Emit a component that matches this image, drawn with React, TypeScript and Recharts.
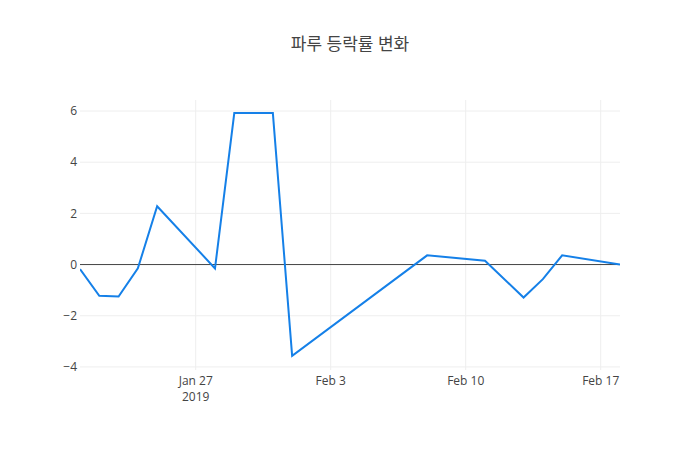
import { LineChart, Line, XAxis, YAxis, ReferenceLine } from "recharts";

const dates = [
  "2019-01-21", "2019-01-22", "2019-01-23", "2019-01-24", "2019-01-25",
  "2019-01-28", "2019-01-29", "2019-01-30", "2019-01-31", "2019-02-01",
  "2019-02-08", "2019-02-11", "2019-02-13", "2019-02-14", "2019-02-15",
  "2019-02-18",
];
const changes = [
  -0.18, -1.22, -1.25, -0.15, 2.28,
  -0.15, 5.92, 5.92, 5.92, -3.57,
  0.36, 0.15, -1.29, -0.57, 0.36,
  0.0,
];
const xTicks = ["2019-01-27", "2019-02-03", "2019-02-10", "2019-02-17"];
const xTickLabels = ["Jan 27", "Feb 3", "Feb 10", "Feb 17"];
const yTicks = [-4, -2, 0, 2, 4, 6];

const ts = (s: string) => Date.parse(s + "T00:00:00Z");

const data = dates.map((d, i) => ({ t: ts(d), v: changes[i] }));
const tickTs = xTicks.map(ts);

const FONT = '"Open Sans", "Noto Sans CJK KR", sans-serif';

function XTick({ x, y, payload }: any) {
  const idx = tickTs.indexOf(payload.value);
  const label = xTickLabels[idx] ?? "";
  return (
    <text x={x} y={y} textAnchor="middle" fill="#444" fontSize={12} fontFamily={FONT}>
      <tspan x={x} dy={7}>{label}</tspan>
      {idx === 0 && <tspan x={x} dy={16}>2019</tspan>}
    </text>
  );
}

export default function App() {
  return (
    <div style={{ position: "absolute", left: 0, top: 0, width: 700, height: 450, background: "#fff" }}>
      <div
        style={{
          position: "absolute", top: 30, left: 0, width: 700, textAlign: "center",
          fontFamily: FONT, fontSize: 17, color: "#444",
        }}
      >
        파루 등락률 변화
      </div>
      <LineChart width={700} height={450} data={data} margin={{ top: 100, right: 80, bottom: 0, left: 0 }}>
        <XAxis
          dataKey="t"
          type="number"
          scale="time"
          domain={[ts("2019-01-21"), ts("2019-02-18")]}
          ticks={tickTs}
          tick={<XTick />}
          axisLine={false}
          tickLine={false}
          height={80}
          allowDataOverflow
        />
        <YAxis
          type="number"
          domain={[-4.12, 6.43]}
          ticks={yTicks}
          width={80}
          axisLine={false}
          tickLine={false}
          tickSize={0}
          tickMargin={3}
          allowDataOverflow
          tickFormatter={(v) => (v < 0 ? "\u2212" + Math.abs(v) : String(v))}
          tick={{ fill: "#444", fontSize: 12, fontFamily: FONT }}
        />
        {tickTs.map((t) => (
          <ReferenceLine key={"x" + t} x={t} stroke="#eee" strokeWidth={1} />
        ))}
        {yTicks.filter((t) => t !== 0).map((t) => (
          <ReferenceLine key={"y" + t} y={t} stroke="#eee" strokeWidth={1} />
        ))}
        <ReferenceLine y={0} stroke="#444" strokeWidth={1} />
        <Line
          dataKey="v"
          type="linear"
          stroke="#1580e8"
          strokeWidth={2}
          dot={false}
          isAnimationActive={false}
        />
      </LineChart>
    </div>
  );
}
